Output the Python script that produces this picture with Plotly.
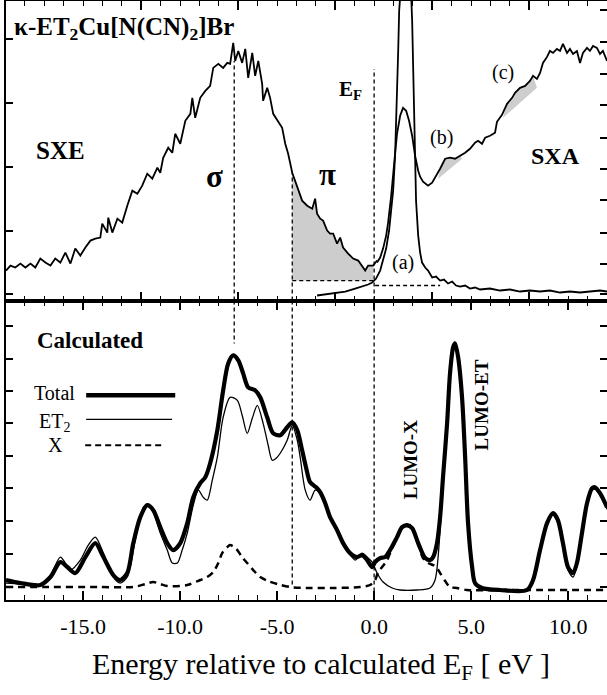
import numpy as np
import plotly.graph_objects as go

FONT = "Liberation Serif"

# ---------------- top panel: measured spectra (energy [eV], intensity [arb.]) ----------------
sxe_energy = [-18.97, -18.74, -18.49, -18.23, -17.97, -17.71, -17.46, -17.20, -16.94, -16.68,
              -16.43, -16.17, -15.91, -15.65, -15.40, -15.14, -14.88, -14.62, -14.37, -14.11,
              -14.01, -13.75, -13.70, -13.49, -13.23, -12.98, -12.72, -12.46, -12.20, -11.95,
              -11.69, -11.43, -11.17, -11.02, -10.87, -10.61, -10.40, -10.25, -9.99, -9.84,
              -9.73, -9.47, -9.37, -9.22, -8.96, -8.70, -8.45, -8.29, -8.03, -7.78,
              -7.57, -7.42, -7.26, -7.16, -7.00, -6.80, -6.64, -6.49, -6.28, -6.13,
              -5.97, -5.77, -5.72, -5.51, -5.36, -5.20, -4.99, -4.74, -4.58, -4.43,
              -4.22, -3.96, -3.71, -3.45, -3.19, -3.04, -2.94, -2.78, -2.63, -2.42,
              -2.27, -2.11, -1.91, -1.75, -1.60, -1.34, -1.08, -0.82, -0.62, -0.46,
              -0.31, -0.05, 0.15]
sxe_intensity = [30, 35, 33, 37, 33, 37, 33, 42, 38, 35,
                 42, 38, 48, 37, 52, 45, 53, 60, 62, 63,
                 77, 68, 83, 68, 82, 78, 95, 110, 107, 115,
                 127, 122, 133, 128, 143, 153, 148, 167, 157, 170,
                 180, 187, 203, 183, 203, 210, 215, 233, 237, 233,
                 238, 237, 258, 240, 250, 238, 252, 223, 248, 225,
                 240, 217, 200, 213, 203, 187, 180, 173, 157, 147,
                 128, 113, 100, 95, 92, 102, 87, 82, 80, 70,
                 67, 67, 57, 63, 53, 47, 42, 40, 35, 30,
                 35, 35, 40]

sxa_a_energy = [-2.94, -2.52, -2.01, -1.49, -0.98, -0.62, -0.31, -0.10, 0.10, 0.31,
                0.46, 0.62, 0.77, 0.88, 0.98, 1.08, 1.18, 1.24, 1.29, 1.39,
                1.49, 1.60, 1.70, 1.80, 1.91, 1.96, 2.01, 2.06, 2.11, 2.16,
                2.27, 2.37, 2.47, 2.63, 2.78, 2.99, 3.19, 3.40, 3.60, 3.81,
                4.02, 4.22, 4.43, 4.69, 4.94, 5.20, 5.46, 5.97, 6.49, 7.00,
                7.52, 8.03, 8.55, 9.06, 9.58, 10.09, 10.61, 11.12, 11.64, 12.00]
sxa_a_intensity = [5, 6, 7, 9, 12, 14, 16, 18, 22, 30,
                   40, 52, 70, 88, 110, 145, 200, 250, 290, 325,
                   345, 350, 345, 330, 305, 280, 240, 190, 135, 100,
                   65, 48, 38, 33, 30, 23, 24, 20, 21, 17,
                   19, 15, 14, 15, 12, 13, 11, 12, 10, 11,
                   9, 10, 9, 10, 8, 9, 8, 9, 10, 9]

sxa_bc_energy = [0.15, 0.31, 0.46, 0.62, 0.72, 0.88, 1.03, 1.18, 1.34, 1.49,
                 1.65, 1.80, 1.96, 2.11, 2.27, 2.37, 2.52, 2.78, 2.99, 3.14,
                 3.40, 3.66, 3.91, 4.17, 4.43, 4.69, 4.94, 5.20, 5.36, 5.56,
                 5.72, 5.97, 6.23, 6.33, 6.59, 6.85, 7.11, 7.26, 7.52, 7.78,
                 8.03, 8.19, 8.39, 8.55, 8.70, 8.91, 9.06, 9.22, 9.42, 9.58,
                 9.73, 9.94, 10.09, 10.25, 10.45, 10.61, 10.76, 10.97, 11.12, 11.28,
                 11.48, 11.64, 11.79, 12.00]
sxa_bc_intensity = [38, 43, 52, 65, 78, 105, 137, 167, 185, 193,
                    190, 180, 165, 145, 130, 124, 119, 115, 118, 123,
                    132, 142, 143, 142, 145, 148, 152, 158, 160, 157,
                    163, 165, 168, 179, 186, 197, 203, 208, 213, 215,
                    220, 225, 222, 228, 238, 244, 250, 248, 252, 250,
                    257, 248, 252, 247, 250, 238, 248, 253, 250, 255,
                    253, 247, 250, 240]

# ---------------- bottom panel: calculated DOS ----------------
dos_total_energy = [-18.97, -18.23, -17.20, -16.68, -16.17, -15.81, -15.40, -14.88, -14.37, -13.95,
                    -13.44, -13.08, -12.72, -12.41, -12.05, -11.69, -11.38, -11.02, -10.66, -10.35,
                    -9.99, -9.63, -9.32, -8.96, -8.70, -8.45, -8.08, -7.78, -7.52, -7.26,
                    -7.00, -6.75, -6.49, -6.13, -5.87, -5.51, -5.20, -4.84, -4.48, -4.22,
                    -3.96, -3.71, -3.50, -3.30, -2.94, -2.78, -2.52, -2.27, -1.91, -1.60,
                    -1.24, -0.88, -0.62, -0.36, -0.10, 0.05, 0.31, 0.57, 0.82, 1.18,
                    1.44, 1.70, 1.96, 2.27, 2.63, 2.88, 3.04, 3.24, 3.40, 3.55,
                    3.76, 3.91, 4.07, 4.17, 4.33, 4.53, 4.69, 4.84, 5.05, 5.20,
                    5.56, 6.49, 7.88, 8.19, 8.55, 8.91, 9.22, 9.47, 9.73, 9.99,
                    10.25, 10.45, 10.71, 10.97, 11.23, 11.38, 11.64, 12.00]
dos_total = [20, 17, 15, 23, 38, 33, 27, 43, 57, 43,
             25, 20, 27, 57, 83, 95, 90, 73, 57, 50,
             57, 77, 103, 117, 123, 137, 170, 210, 237, 245,
             240, 227, 213, 210, 203, 183, 167, 165, 173, 178,
             170, 150, 132, 118, 112, 108, 97, 83, 70, 57,
             47, 43, 45, 40, 33, 38, 42, 43, 50, 63,
             73, 75, 72, 57, 42, 40, 43, 57, 83, 123,
             177, 227, 253, 257, 243, 203, 143, 77, 33, 17,
             12, 10, 10, 20, 50, 77, 87, 80, 57, 33,
             27, 37, 67, 97, 112, 113, 107, 93]

dos_et2_energy = [-18.97, -18.23, -17.20, -16.68, -16.17, -15.91, -15.65, -15.14, -14.73, -14.37,
                  -13.95, -13.44, -13.08, -12.72, -12.31, -11.89, -11.64, -11.38, -11.02, -10.66,
                  -10.40, -10.14, -9.89, -9.63, -9.32, -9.06, -8.81, -8.60, -8.34, -8.08,
                  -7.78, -7.42, -7.05, -6.80, -6.54, -6.28, -6.02, -5.72, -5.46, -5.25,
                  -5.05, -4.84, -4.48, -4.22, -3.96, -3.81, -3.55, -3.30, -3.04, -2.78,
                  -2.52, -2.11, -1.75, -1.39, -0.98, -0.62, -0.36, -0.10, 0.15, 0.46,
                  0.93, 1.34, 2.21, 2.88, 3.14, 3.40, 3.55, 3.76, 3.91, 4.07,
                  4.17, 4.33, 4.53, 4.69, 4.84, 5.05, 5.20, 5.56, 6.49, 7.88,
                  8.19, 8.55, 8.91, 9.22, 9.47, 9.73, 9.99, 10.25, 10.45, 10.71,
                  10.97, 11.23, 11.38, 11.64, 12.00]
dos_et2 = [17, 16, 15, 25, 43, 37, 30, 40, 55, 63,
           47, 23, 17, 23, 60, 93, 96, 88, 67, 50,
           37, 37, 50, 67, 95, 110, 103, 100, 120, 143,
           183, 203, 200, 185, 167, 182, 195, 177, 155, 140,
           142, 147, 160, 175, 160, 143, 110, 100, 110, 108,
           95, 77, 63, 50, 40, 47, 43, 38, 27, 18,
           12, 10, 10, 12, 20, 70, 120, 175, 225, 252,
           256, 242, 202, 142, 76, 32, 16, 11, 10, 10,
           19, 48, 75, 85, 77, 53, 30, 23, 34, 65,
           95, 110, 111, 105, 91]

dos_x_energy = [-18.97, -17.04, -14.11, -12.41, -11.79, -11.38, -11.02, -10.66, -9.63, -8.96,
                -8.60, -8.29, -8.03, -7.83, -7.57, -7.42, -7.21, -7.05, -6.80, -6.54,
                -6.23, -5.87, -5.46, -4.99, -4.33, -3.30, -2.11, -0.72, -0.21, 0.05,
                0.21, 0.41, 0.67, 0.93, 1.18, 1.44, 1.70, 1.96, 2.27, 2.52,
                2.78, 3.04, 3.24, 3.40, 3.66, 3.91, 4.27, 4.79, 6.49, 12.00]
dos_x = [13, 13, 13, 13, 16, 18, 16, 14, 15, 20,
         23, 28, 37, 47, 53, 55, 53, 50, 43, 37,
         30, 23, 19, 16, 13, 12, 12, 13, 15, 20,
         28, 33, 40, 52, 62, 72, 74, 71, 56, 42,
         37, 35, 32, 27, 19, 13, 12, 10, 10, 10]

for a, b in [(sxe_energy, sxe_intensity), (sxa_a_energy, sxa_a_intensity),
             (sxa_bc_energy, sxa_bc_intensity), (dos_total_energy, dos_total),
             (dos_et2_energy, dos_et2), (dos_x_energy, dos_x)]:
    assert len(a) == len(b), (len(a), len(b))

# tick labels
tick_values = [-15, -10, -5, 0, 5, 10]
tick_labels = ["-15.0", "-10.0", "-5.0", "0.0", "5.0", "10.0"]
top_major_ticks = [-12, -7, -2, 3, 8]
top_left_yticks = [7, 70, 134, 198, 262]
top_right_yticks = [7, 37, 68, 101, 132, 163, 196, 227, 259, 291]
bottom_yticks = [13, 46, 79, 112, 144, 177, 209, 241, 274]

# reference energies / guide levels
SIGMA_E = -7.21
PI_E = -4.22
EF_E = 0.0
PI_BASE = 20          # dashed background under pi region
A_BASE = 15           # dashed background under SXA (a)
A_BASE_END = 3.40
SIGMA_TOP = 240
EF_TOP = 232
SIGMA_BOTTOM_END = 257
PI_BOTTOM_END = 13
# shaded wedges under SXA curve: straight-line lower edges
wedge_b_e = [3.30, 4.53]
wedge_b_y = [122, 142]
wedge_c_e = [6.64, 8.39]
wedge_c_y = [183, 213]

X_RANGE = [-18.97, 12.0]
Y_RANGE = [0, 300]
GRAY = "#cdcdcd"
DASH = "4px,3px"

fig = go.Figure()
top = dict(xaxis="x2", yaxis="y")
bot = dict(xaxis="x", yaxis="y2")

sxe_e = np.array(sxe_energy)
sxe_y = np.array(sxe_intensity)
m = (sxe_e >= PI_E) & (sxe_e <= EF_E)
pe, py = list(sxe_e[m]), list(sxe_y[m])
fig.add_trace(go.Scatter(x=pe + [pe[-1], pe[0]], y=py + [PI_BASE, PI_BASE],
                         fill="toself", fillcolor=GRAY, line=dict(width=0),
                         mode="lines", hoverinfo="skip", **top))

bc_e = np.array(sxa_bc_energy)
bc_y = np.array(sxa_bc_intensity)
for we, wy in [(wedge_b_e, wedge_b_y), (wedge_c_e, wedge_c_y)]:
    mm = (bc_e > we[0]) & (bc_e < we[1])
    xs = [we[0]] + list(bc_e[mm]) + [we[1]]
    ys = [wy[0]] + list(bc_y[mm]) + [wy[1]]
    fig.add_trace(go.Scatter(x=xs, y=ys, fill="toself", fillcolor=GRAY,
                             line=dict(width=0), mode="lines", hoverinfo="skip", **top))

guide = dict(color="black", width=1.3, dash=DASH)
# top-panel guides
for xs, ys in [([SIGMA_E, SIGMA_E], [0, SIGMA_TOP]),
               ([PI_E, PI_E], [0, sxe_y[sxe_e == PI_E][0]]),
               ([EF_E, EF_E], [0, EF_TOP]),
               ([PI_E, sxe_e[m][-1] + 0.1], [PI_BASE, PI_BASE]),
               ([sxe_e[m][-1] + 0.1, A_BASE_END], [A_BASE, A_BASE])]:
    fig.add_trace(go.Scatter(x=xs, y=ys, mode="lines", line=guide, hoverinfo="skip", **top))
# bottom-panel guides
for xs, ys in [([SIGMA_E, SIGMA_E], [300, SIGMA_BOTTOM_END]),
               ([PI_E, PI_E], [300, PI_BOTTOM_END]),
               ([EF_E, EF_E], [300, 0])]:
    fig.add_trace(go.Scatter(x=xs, y=ys, mode="lines", line=guide, hoverinfo="skip", **bot))

# spectra
for xs, ys in [(sxe_energy, sxe_intensity), (sxa_a_energy, sxa_a_intensity),
               (sxa_bc_energy, sxa_bc_intensity)]:
    fig.add_trace(go.Scatter(x=xs, y=ys, mode="lines",
                             line=dict(color="black", width=1.8), hoverinfo="skip", **top))

fig.add_trace(go.Scatter(x=dos_x_energy, y=dos_x, mode="lines",
                         line=dict(color="black", width=2.5, dash="7px,5px", shape="spline", smoothing=0.8),
                         name="X", **bot))
fig.add_trace(go.Scatter(x=dos_et2_energy, y=dos_et2, mode="lines",
                         line=dict(color="black", width=1.3, shape="spline", smoothing=0.8),
                         name="ET2", **bot))
fig.add_trace(go.Scatter(x=dos_total_energy, y=dos_total, mode="lines",
                         line=dict(color="black", width=4.2, shape="spline", smoothing=0.8),
                         name="Total", **bot))
# holder for right-hand tick axis of top panel
fig.add_trace(go.Scatter(x=[], y=[], xaxis="x2", yaxis="y3", showlegend=False))

ax_common = dict(showline=True, linecolor="black", linewidth=2, showgrid=False,
                 zeroline=False, ticks="inside", tickcolor="black", automargin=False)

fig.update_layout(
    template="none",
    width=607, height=695, autosize=False,
    margin=dict(l=6, r=0, t=1, b=95, pad=0),
    paper_bgcolor="white", plot_bgcolor="white", showlegend=False,
    font=dict(family=FONT, color="black"),
    xaxis=dict(**ax_common, domain=[0, 1], anchor="y2", range=X_RANGE,
               tickmode="array", tickvals=tick_values, ticktext=tick_labels,
               ticklen=9, tickwidth=1.5, mirror="ticks",
               minor=dict(ticks="inside", tickmode="linear", tick0=0, dtick=1,
                          ticklen=5, tickwidth=1.2, tickcolor="black"),
               tickfont=dict(family=FONT, size=22, color="black"),
               ticklabelstandoff=6),
    xaxis2=dict(**ax_common, domain=[0, 1], anchor="y", range=X_RANGE,
                tickmode="array", tickvals=top_major_ticks, showticklabels=False,
                ticklen=9, tickwidth=1.5, mirror="ticks",
                minor=dict(ticks="inside", tickmode="linear", tick0=0, dtick=1,
                           ticklen=5, tickwidth=1.2, tickcolor="black")),
    yaxis=dict(**ax_common, domain=[0.5, 1], anchor="x2", range=Y_RANGE,
               tickmode="array", tickvals=top_left_yticks, showticklabels=False,
               ticklen=7, tickwidth=1.5, mirror=True),
    yaxis3=dict(showline=False, showgrid=False, zeroline=False, overlaying="y",
                anchor="x2", side="right", range=Y_RANGE, ticks="inside",
                tickmode="array", tickvals=top_right_yticks, showticklabels=False,
                ticklen=7, tickwidth=1.5, tickcolor="black", automargin=False),
    yaxis2=dict(**ax_common, domain=[0, 0.5], anchor="x", range=Y_RANGE,
                tickmode="array", tickvals=bottom_yticks, showticklabels=False,
                ticklen=7, tickwidth=1.5, mirror="ticks"),
)

def ann(text, x, y, size, xref="x2", yref="y", xanchor="center", angle=0):
    fig.add_annotation(text=text, x=x, y=y, xref=xref, yref=yref, showarrow=False,
                       xanchor=xanchor, yanchor="middle", textangle=angle,
                       font=dict(family=FONT, size=size, color="black"))

# top-panel labels
ann("<b>κ-ET<sub>2</sub>Cu[N(CN)<sub>2</sub>]Br</b>", -18.65, 272, 25, xanchor="left")
ann("<b>SXE</b>", -16.18, 150, 25)
ann("<b>σ</b>", -8.24, 124, 31)
ann("<b>π</b>", -2.42, 126, 31)
ann("<b>E<sub>F</sub></b>", -1.91, 211, 21, xanchor="left")
ann("(a)", 1.49, 38, 20)
ann("(b)", 3.45, 163, 20)
ann("(c)", 6.65, 228, 20)
ann("<b>SXA</b>", 9.33, 145, 24)

# bottom-panel labels
ann("<b>Calculated</b>", -17.47, 260, 23, xref="x", yref="y2", xanchor="left")
ann("Total", -15.30, 207, 20, xref="x", yref="y2", xanchor="right")
ann("ET<sub>2</sub>", -15.56, 178, 20, xref="x", yref="y2", xanchor="right")
ann("X", -16.43, 155, 20, xref="x", yref="y2")
ann("<b>LUMO-X</b>", 1.85, 140, 19, xref="x", yref="y2", angle=-90)
ann("<b>LUMO-ET</b>", 5.51, 195, 19, xref="x", yref="y2", angle=-90)

# legend samples
for x0, x1, yv, w, d in [(-14.84, -10.25, 205, 4.5, "solid"),
                         (-14.84, -10.41, 181, 1.3, "solid"),
                         (-14.89, -10.92, 155, 2.2, "6px,4px")]:
    fig.add_shape(type="line", xref="x", yref="y2", x0=x0, x1=x1, y0=yv, y1=yv,
                  line=dict(color="black", width=w, dash=d))

# axis title
fig.add_annotation(text="Energy relative to calculated E<sub>F</sub> [ eV ]",
                   xref="paper", yref="paper", x=0.524, y=-0.110, showarrow=False,
                   xanchor="center", yanchor="middle",
                   font=dict(family=FONT, size=30, color="black"))

# remove the browser's default page margin so the figure sits at the window's corner
fig.write_html("out.html", config={"displayModeBar": False},
               post_script="document.body.style.margin='0px';document.body.style.padding='0px';")
